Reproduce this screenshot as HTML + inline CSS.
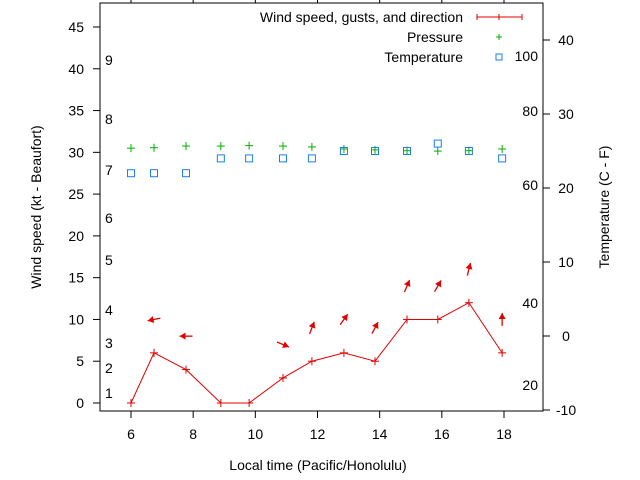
<!DOCTYPE html>
<html><head><meta charset="utf-8"><style>
body{margin:0;background:#fff}
svg{display:block;font-family:"Liberation Sans",sans-serif}
</style></head><body>
<svg id="c" width="640" height="480" xmlns="http://www.w3.org/2000/svg">
<rect x="0" y="0" width="640" height="480" fill="#fff"/>
<g id="axes"></g>
<g id="marks"></g>
<g font-size="14">
<text x="463" y="22" text-anchor="end">Wind speed, gusts, and direction</text>
<g stroke="#e00000" stroke-width="1"><line x1="477" y1="17" x2="522" y2="17"/><line x1="477" y1="14" x2="477" y2="20"/><line x1="522" y1="14" x2="522" y2="20"/><line x1="499" y1="14" x2="499" y2="20"/></g>
<text x="463" y="42" text-anchor="end">Pressure</text>
<g stroke="#00b000"><line x1="496" y1="37" x2="502" y2="37"/><line x1="499" y1="34" x2="499" y2="40"/></g>
<text x="463" y="62" text-anchor="end">Temperature</text>
<rect x="496" y="54" width="6" height="6" fill="none" stroke="#1a7fe8"/>
</g>
</svg>
<script>
const times=[6,6.74,7.77,8.89,9.8,10.89,11.82,12.85,13.85,14.88,15.87,16.87,17.94];
const windSpeed=[0,6,4,0,0,3,5,6,5,10,10,12,6];
const gusts=[null,10,8,null,null,7,9,10,9,14,14,16,10];
const dirAngle=[null,192,180,null,null,337,69,54,62,67,60,76,90];
const pressure=[30.5,30.55,30.75,30.75,30.8,30.75,30.65,30.4,30.3,30.2,30.15,30.2,30.4];
const tempC=[22,22,22,24,24,24,24,25,25,25,26,25,24];
const xTicks=[6,8,10,12,14,16,18];
const yTicks=[0,5,10,15,20,25,30,35,40,45];
const y2Ticks=[-10,0,10,20,30,40];
const beaufort=[["1",393],["2",368],["3",343],["4",310],["5",260],["6",218],["7",170],["8",119],["9",60]];
const fahr=[["100",56],["80",111],["60",185],["40",303],["20",385]];
const L=100,R=543,T=3,B=411;
const X=v=>131+(v-6)*(373/12);
const Y=v=>403-v*(376/45);
const Y2=v=>336-v*7.4;
const NS="http://www.w3.org/2000/svg";
function mk(p,tag,at,txt){const e=document.createElementNS(NS,tag);for(const k in at)e.setAttribute(k,at[k]);if(txt!=null)e.textContent=txt;p.appendChild(e);return e;}
const ax=document.getElementById('axes'),mg=document.getElementById('marks');
const fr=mk(ax,'rect',{x:L,y:T,width:R-L,height:B-T,fill:'none',stroke:'#000'});


xTicks.forEach(t=>{const x=X(t);
 mk(ax,'line',{x1:x,y1:B,x2:x,y2:B+7,stroke:'#000'});
 mk(ax,'line',{x1:x,y1:T,x2:x,y2:T-4,stroke:'#000'});
 const tx=mk(ax,'text',{x:x,y:439,'text-anchor':'middle','font-size':14},t);
 
 });
yTicks.forEach(t=>{const y=Y(t);
 mk(ax,'line',{x1:L-7,y1:y,x2:L,y2:y,stroke:'#000'});
 const tx=mk(ax,'text',{x:84,y:y+5,'text-anchor':'end','font-size':14},t);
 
 });
y2Ticks.forEach(t=>{const y=Y2(t);
 mk(ax,'line',{x1:R,y1:y,x2:R+7,y2:y,stroke:'#000'});
 const tx=mk(ax,'text',{x:566,y:y+5,'text-anchor':'middle','font-size':14},t);
 
 });
beaufort.forEach(b=>{const tx=mk(ax,'text',{x:105,y:b[1]+5,'font-size':14},b[0]);
 
 });
fahr.forEach(f=>{const tx=mk(ax,'text',{x:538,y:f[1]+5,'text-anchor':'end','font-size':14},f[0]);
 
 });
let t1=mk(ax,'text',{x:318,y:470,'text-anchor':'middle','font-size':14},'Local time (Pacific/Honolulu)');


let t2=mk(ax,'text',{x:41,y:207,'text-anchor':'middle','font-size':14,transform:'rotate(-90 41 207)'},'Wind speed (kt - Beaufort)');


let t3=mk(ax,'text',{x:609,y:207,'text-anchor':'middle','font-size':14,transform:'rotate(-90 609 207)'},'Temperature (C - F)');


const pl=mk(mg,'polyline',{points:times.map((t,i)=>X(t)+','+Y(windSpeed[i])).join(' '),fill:'none',stroke:'#e00000','stroke-width':1});


times.forEach((t,i)=>{const x=X(t),y=Y(windSpeed[i]);
 const g=mk(mg,'g',{stroke:'#e00000'});
 
 
 mk(g,'line',{x1:x-4,y1:y,x2:x+4,y2:y});mk(g,'line',{x1:x,y1:y-4,x2:x,y2:y+4});
 const py=Y(pressure[i]);
 const gp=mk(mg,'g',{stroke:'#00b000'});
 
 
 mk(gp,'line',{x1:x-4,y1:py,x2:x+4,y2:py});mk(gp,'line',{x1:x,y1:py-4,x2:x,y2:py+4});
 const ty=Y2(tempC[i]);
 const r=mk(mg,'rect',{x:x-3.5,y:ty-3.5,width:7,height:7,fill:'none',stroke:'#1a7fe8'});
 
 
 if(gusts[i]!=null){const cy=Y(gusts[i]),a=dirAngle[i]*Math.PI/180,len=13;
  const dx=Math.cos(a)*len/2,dy=-Math.sin(a)*len/2;
  const hx=x+dx,hy=cy+dy,tx=x-dx,ty2=cy-dy;
  const ga=mk(mg,'g',{});
  
  
  mk(ga,'line',{x1:tx,y1:ty2,x2:hx,y2:hy,stroke:'#e00000','stroke-width':1.3});
  const ux=Math.cos(a),uy=-Math.sin(a),px=-uy,py2=ux;
  const bx=hx-ux*6,by=hy-uy*6;
  mk(ga,'polygon',{points:`${hx},${hy} ${bx+px*3.5},${by+py2*3.5} ${bx-px*3.5},${by-py2*3.5}`,fill:'#e00000'});
 }
});
</script>
</body></html>
